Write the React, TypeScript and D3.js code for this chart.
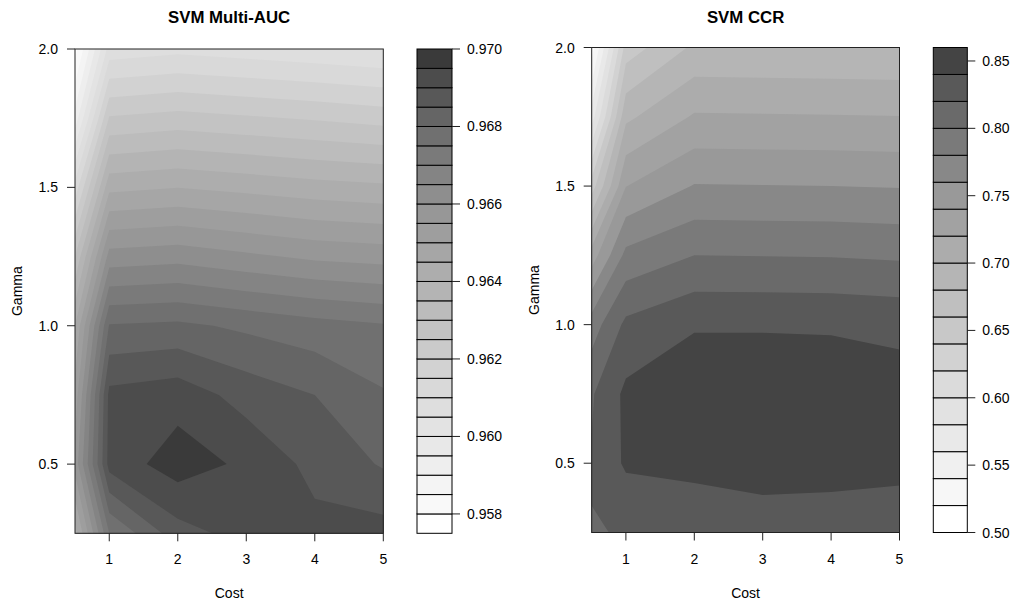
import React from 'react';
import * as d3 from 'd3';

const costs = [0.5, 1, 2, 3, 4, 5];
const gammas = [0.25, 0.5, 0.75, 1.0, 1.25, 1.5, 1.75, 2.0];

// one row per gamma (0.25 first), one column per cost
const aucRows = [
  [0.9643, 0.9675, 0.9688, 0.9692, 0.96915, 0.9692],
  [0.9657, 0.9692, 0.96975, 0.9694, 0.96885, 0.96845],
  [0.9652, 0.96914, 0.9693, 0.9688, 0.9685, 0.96805],
  [0.9645, 0.96804, 0.96811, 0.9679, 0.9677, 0.96755],
  [0.963, 0.96621, 0.96631, 0.9661, 0.9659, 0.9658],
  [0.9612, 0.96436, 0.96449, 0.96435, 0.9642, 0.9641],
  [0.9592, 0.96255, 0.96269, 0.96257, 0.96245, 0.9623],
  [0.9578, 0.96071, 0.96086, 0.96074, 0.96062, 0.9605],
];

const ccrRows = [
  [0.819, 0.821, 0.825, 0.83, 0.831, 0.832],
  [0.8216, 0.843, 0.846, 0.8485, 0.8464, 0.8438],
  [0.818, 0.8444, 0.855, 0.855, 0.854, 0.849],
  [0.79, 0.8246, 0.838, 0.838, 0.8375, 0.835],
  [0.73, 0.7856, 0.8, 0.7995, 0.799, 0.797],
  [0.65, 0.7395, 0.7611, 0.7606, 0.76, 0.759],
  [0.57, 0.6956, 0.7222, 0.7217, 0.7212, 0.7204],
  [0.51, 0.6493, 0.6837, 0.6832, 0.6827, 0.682],
];

const aucLevels = [
  0.9575, 0.958, 0.9585, 0.959, 0.9595, 0.96, 0.9605, 0.961, 0.9615, 0.962,
  0.9625, 0.963, 0.9635, 0.964, 0.9645, 0.965, 0.9655, 0.966, 0.9665, 0.967,
  0.9675, 0.968, 0.9685, 0.969, 0.9695, 0.97,
];
const ccrLevels = [
  0.5, 0.52, 0.54, 0.56, 0.58, 0.6, 0.62, 0.64, 0.66, 0.68, 0.7, 0.72, 0.74,
  0.76, 0.78, 0.8, 0.82, 0.84, 0.86,
];

const aucKeyTicks = [0.958, 0.96, 0.962, 0.964, 0.966, 0.968, 0.97];
const ccrKeyTicks = [0.5, 0.55, 0.6, 0.65, 0.7, 0.75, 0.8, 0.85];
const costTicks = [1, 2, 3, 4, 5];
const gammaTicks = [0.5, 1.0, 1.5, 2.0];

// grey shade per band position (0 = lowest band, 1 = highest)
const aucShades: [number, number][] = [
  [0, 255], [0.042, 249], [0.083, 244], [0.125, 238], [0.167, 232], [0.208, 227],
  [0.25, 222], [0.292, 217], [0.667, 151], [0.708, 142], [0.75, 132], [0.792, 122],
  [0.833, 112], [0.875, 101], [0.917, 88], [0.958, 76], [1, 58],
];
const ccrShades: [number, number][] = [
  [0, 255], [0.059, 247], [0.118, 240], [0.176, 233], [0.235, 226], [0.294, 219],
  [0.706, 153], [0.765, 136], [0.824, 122], [0.882, 106], [0.941, 89], [1, 68],
];

const font = 'Liberation Sans, Arial, Helvetica, sans-serif';

function shadeFn(anchors: [number, number][], n: number) {
  const s = d3.scaleLinear().domain(anchors.map(a => a[0])).range(anchors.map(a => a[1]));
  return (j: number) => {
    const v = Math.round(s(j / (n - 1)));
    return `rgb(${v},${v},${v})`;
  };
}

const Panel = ({ id, title, rows, levels, keyTicks, fmt, shades, px0, px1, py0, py1, kx0, kx1, ylabX }: any) => {
  const x = d3.scaleLinear().domain([0.5, 5]).range([px0, px1]);
  const y = d3.scaleLinear().domain([0.25, 2]).range([py1, py0]);
  const costAt = d3.scaleLinear().domain(d3.range(costs.length)).range(costs);
  const gammaAt = d3.scaleLinear().domain(d3.range(gammas.length)).range(gammas);
  const nb = levels.length - 1;
  const color = shadeFn(shades, nb);

  const gen = d3.contours().size([costs.length, gammas.length]).thresholds(levels.slice(0, -1));
  const bands = gen(rows.flat());
  const toPath = (mp: any) =>
    mp.coordinates
      .map((poly: any) =>
        poly
          .map((ring: any) =>
            'M' + ring.map(([cx, cy]: number[]) => `${x(costAt(cx - 0.5)).toFixed(2)},${y(gammaAt(cy - 0.5)).toFixed(2)}`).join('L') + 'Z'
          )
          .join('')
      )
      .join('');

  const ky = d3.scaleLinear().domain([levels[0], levels[nb]]).range([py1, py0]);
  const cx = (px0 + px1) / 2;

  return (
    <g fontFamily={font}>
      <defs>
        <clipPath id={id}>
          <rect x={px0} y={py0} width={px1 - px0} height={py1 - py0} />
        </clipPath>
      </defs>
      <text x={cx} y={23} textAnchor="middle" fontWeight="bold" fontSize={16.8}>{title}</text>
      <g clipPath={`url(#${id})`}>
        <rect x={px0} y={py0} width={px1 - px0} height={py1 - py0} fill={color(0)} />
        {bands.map((b: any, j: number) => (
          <path key={j} d={toPath(b)} fill={color(j)} fillRule="evenodd" />
        ))}
      </g>
      <rect x={px0} y={py0} width={px1 - px0} height={py1 - py0} fill="none" stroke="#222" />
      {costTicks.map(t => (
        <g key={t}>
          <line x1={x(t)} x2={x(t)} y1={py1} y2={py1 + 8} stroke="#222" />
          <text x={x(t)} y={py1 + 31} textAnchor="middle" fontSize={14}>{t}</text>
        </g>
      ))}
      {gammaTicks.map(t => (
        <g key={t}>
          <line x1={px0 - 8} x2={px0} y1={y(t)} y2={y(t)} stroke="#222" />
          <text x={px0 - 17} y={y(t) + 5} textAnchor="end" fontSize={14}>{t.toFixed(1)}</text>
        </g>
      ))}
      <text x={cx} y={598} textAnchor="middle" fontSize={14}>Cost</text>
      <text transform={`translate(${ylabX},${(py0 + py1) / 2}) rotate(-90)`} textAnchor="middle" fontSize={14}>Gamma</text>
      {d3.range(nb).map(j => (
        <rect key={j} x={kx0} width={kx1 - kx0} y={ky(levels[j + 1])} height={ky(levels[j]) - ky(levels[j + 1])}
          fill={color(j)} stroke="#000" strokeWidth={1} />
      ))}
      {keyTicks.map((t: number) => (
        <g key={t}>
          <line x1={kx1} x2={kx1 + 8} y1={ky(t)} y2={ky(t)} stroke="#222" />
          <text x={kx1 + 15} y={ky(t) + 5} fontSize={14}>{fmt(t)}</text>
        </g>
      ))}
    </g>
  );
};

export default function App() {
  return (
    <svg width={1015} height={604} style={{ position: 'absolute', left: 0, top: 0, background: '#fff' }}>
      <rect width={1015} height={604} fill="#fff" />
      <Panel id="clipA" title="SVM Multi-AUC" rows={aucRows} levels={aucLevels} keyTicks={aucKeyTicks}
        fmt={d3.format('.3f')} shades={aucShades}
        px0={75} px1={383.3} py0={49} py1={533.3} kx0={417} kx1={452} ylabX={22} />
      <Panel id="clipB" title="SVM CCR" rows={ccrRows} levels={ccrLevels} keyTicks={ccrKeyTicks}
        fmt={d3.format('.2f')} shades={ccrShades}
        px0={591.7} px1={899.5} py0={47.5} py1={532.5} kx0={933.3} kx1={967.3} ylabX={539} />
    </svg>
  );
}
